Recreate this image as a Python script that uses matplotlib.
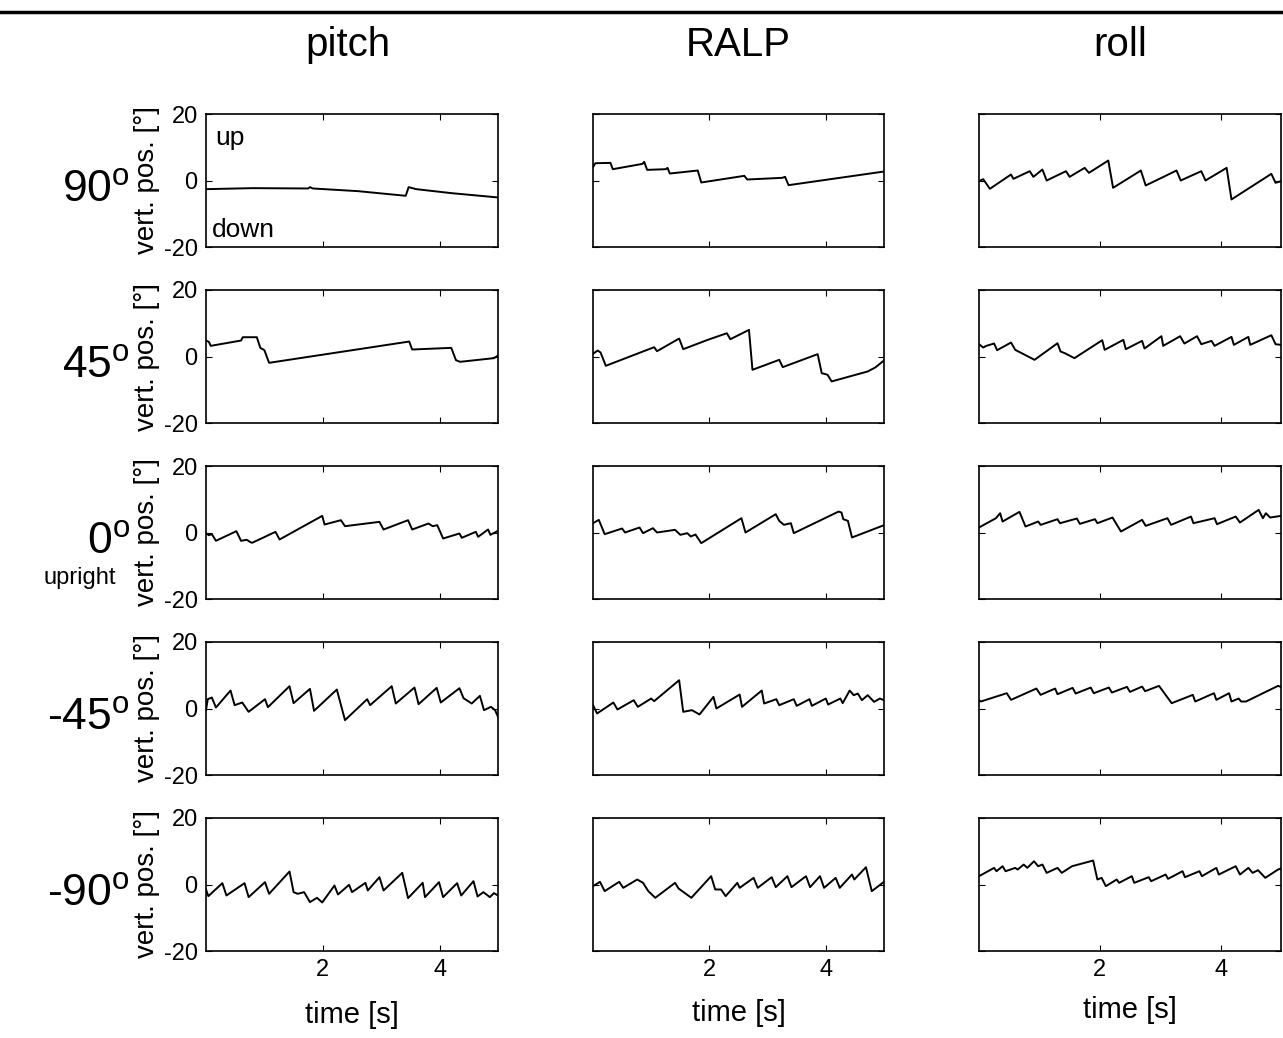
import matplotlib
matplotlib.use("Agg")
import matplotlib.pyplot as plt
from matplotlib.lines import Line2D

plt.rcParams['font.family'] = ['Liberation Sans', 'DejaVu Sans']
plt.rcParams['mathtext.fontset'] = 'custom'
plt.rcParams['mathtext.rm'] = 'Liberation Sans'
plt.rcParams['axes.unicode_minus'] = False

# column / row names
columns = ["pitch", "RALP", "roll"]
rows = ["90", "45", "0", "-45", "-90"]

# eye traces: (time [s], vert. pos. [deg])
pitch_90 = [(0, -2.6), (0.8, -2.3), (1.75, -2.4), (1.78, -2.0), (1.83, -2.4), (2.6, -3.2),
            (3.42, -4.6), (3.47, -2.0), (3.6, -2.6), (4.2, -3.8), (5, -5.1)]
ralp_90 = [(0, 4.0), (0.04, 5.2), (0.3, 5.3), (0.34, 3.4), (0.85, 5.0), (0.88, 5.6), (0.93, 3.2),
           (1.25, 3.4), (1.28, 3.8), (1.32, 2.1), (1.8, 3.0), (1.86, -0.6), (2.6, 1.4), (2.65, 0.3),
           (3.25, 0.8), (3.3, 1.1), (3.36, -1.4), (5, 2.7)]
roll_90 = [(0, -0.2), (0.07, 0.4), (0.18, -2.5), (0.53, 1.8), (0.57, 0.5), (0.84, 2.8), (0.9, 1.1),
           (1.05, 3.3), (1.12, 0.0), (1.44, 2.8), (1.5, 1.1), (1.75, 3.8), (1.82, 2.3), (2.14, 6.0),
           (2.22, -2.2), (2.68, 3.0), (2.76, -1.5), (3.27, 3.0), (3.34, 0.0), (3.68, 2.8), (3.75, 0.0),
           (4.1, 3.8), (4.18, -5.7), (4.84, 2.0), (4.91, -0.7), (5, -0.2)]

pitch_45 = [(0, 4.8), (0.05, 4.4), (0.08, 3.2), (0.6, 4.8), (0.63, 5.8), (0.87, 5.8), (0.93, 2.6),
            (1.0, 1.9), (1.08, -1.9), (3.48, 4.5), (3.53, 2.1), (4.2, 2.6), (4.28, -1.1), (4.35, -1.6),
            (4.93, -0.5), (5, 0.3)]
ralp_45 = [(0, 0.8), (0.08, 1.8), (0.13, 1.2), (0.22, -2.8), (1.05, 2.8), (1.1, 1.6), (1.48, 5.4),
           (1.55, 2.2), (1.97, 5.0), (2.3, 7.0), (2.36, 5.2), (2.68, 8.0), (2.74, -4.0), (3.2, -1.0),
           (3.26, -3.2), (3.86, 0.7), (3.93, -5.0), (4.03, -5.5), (4.1, -7.5), (4.72, -4.5),
           (4.85, -3.3), (5, -1.2)]
roll_45 = [(0, 3.7), (0.07, 2.7), (0.12, 3.2), (0.25, 3.9), (0.3, 1.9), (0.53, 4.2), (0.6, 2.0),
           (0.92, -1.0), (1.3, 4.0), (1.35, 1.5), (1.42, 1.0), (1.58, -0.5), (2.04, 4.9), (2.08, 2.0),
           (2.39, 5.0), (2.43, 2.2), (2.7, 4.7), (2.74, 2.4), (3.02, 6.1), (3.05, 3.2), (3.33, 6.1),
           (3.4, 3.9), (3.61, 6.1), (3.68, 3.7), (3.85, 4.7), (3.9, 3.2), (4.18, 5.9), (4.22, 3.5),
           (4.46, 5.9), (4.49, 3.5), (4.84, 6.4), (4.91, 3.7), (5, 3.5)]

pitch_0 = [(0, -0.3), (0.05, -0.8), (0.1, -0.5), (0.17, -2.5), (0.52, 0.4), (0.6, -2.5), (0.7, -2.2),
           (0.75, -2.8), (0.79, -3.1), (1.19, 0.2), (1.26, -2.1), (1.99, 5.0), (2.03, 2.4), (2.31, 3.7),
           (2.38, 1.9), (2.97, 3.2), (3.04, 0.9), (3.46, 3.7), (3.53, 0.9), (3.81, 2.7), (3.88, 1.9),
           (3.96, 2.2), (4.06, -1.8), (4.34, -0.3), (4.38, -1.6), (4.62, 0.2), (4.66, -1.3),
           (4.83, 0.9), (4.87, -0.7), (5, 0.5)]
ralp_0 = [(0, 2.8), (0.1, 3.8), (0.2, -0.5), (0.5, 1.2), (0.55, 0.0), (0.8, 1.5), (0.86, -0.2),
          (1.03, 1.3), (1.1, 0.0), (1.41, 0.8), (1.5, -0.7), (1.62, -0.2), (1.68, -1.2), (1.76, -0.6),
          (1.86, -3.2), (2.55, 4.3), (2.62, 0.0), (3.14, 5.5), (3.2, 3.5), (3.28, 2.3), (3.4, 2.8),
          (3.45, -0.2), (4.22, 6.3), (4.27, 6.0), (4.3, 4.0), (4.38, 3.5), (4.45, -1.5), (5, 2.2)]
roll_0 = [(0, 1.5), (0.28, 4.3), (0.35, 5.8), (0.39, 3.3), (0.67, 6.2), (0.77, 1.8), (0.98, 3.3),
          (1.02, 2.3), (1.3, 4.0), (1.34, 2.8), (1.62, 4.2), (1.67, 2.6), (1.92, 4.0), (1.96, 2.8),
          (2.21, 4.5), (2.35, 0.3), (2.7, 3.8), (2.76, 2.0), (3.12, 4.3), (3.18, 2.3), (3.51, 4.8),
          (3.55, 2.8), (3.9, 4.3), (3.94, 2.5), (4.25, 4.8), (4.32, 3.0), (4.63, 6.8), (4.7, 4.3),
          (4.75, 5.8), (4.82, 4.5), (5, 5.0)]

pitch_m45 = [(0, -0.5), (0.03, 2.8), (0.1, 3.3), (0.17, 0.3), (0.42, 5.4), (0.49, 1.0), (0.62, 1.8),
             (0.73, -1.0), (1.01, 2.8), (1.06, 0.4), (1.43, 6.7), (1.5, 1.6), (1.78, 5.9), (1.85, -0.7),
             (2.24, 5.7), (2.38, -3.5), (2.76, 2.8), (2.81, 1.0), (3.18, 6.7), (3.25, 1.5), (3.57, 6.3),
             (3.64, 1.3), (3.95, 6.2), (4.02, 1.8), (4.34, 6.1), (4.41, 3.1), (4.55, 1.5), (4.69, 3.8),
             (4.76, -0.5), (4.88, 0.5), (4.95, -0.5), (5, -2.5)]
ralp_m45 = [(0, 1.0), (0.07, -1.5), (0.35, 1.8), (0.42, -0.3), (0.7, 2.5), (0.77, 0.5), (1.0, 3.0),
            (1.05, 2.2), (1.48, 8.5), (1.55, -1.0), (1.7, -0.5), (1.83, -1.8), (2.07, 3.5), (2.12, 0.0),
            (2.52, 4.2), (2.56, 0.5), (2.9, 5.4), (2.94, 1.5), (3.15, 2.8), (3.2, 1.0), (3.45, 2.8),
            (3.5, 0.8), (3.72, 2.8), (3.76, 0.8), (4.0, 3.0), (4.04, 1.2), (4.25, 3.0), (4.29, 1.6),
            (4.41, 5.4), (4.48, 4.0), (4.55, 4.5), (4.62, 2.5), (4.72, 4.0), (4.83, 2.0), (4.93, 3.0),
            (5, 2.5)]
roll_m45 = [(0, 2.5), (0.03, 2.1), (0.46, 4.6), (0.53, 2.6), (0.95, 6.0), (1.02, 4.1), (1.26, 6.0),
            (1.3, 4.3), (1.55, 6.2), (1.6, 4.5), (1.85, 6.3), (1.9, 4.6), (2.15, 6.3), (2.2, 4.8),
            (2.45, 6.5), (2.5, 5.0), (2.7, 6.6), (2.75, 5.2), (2.98, 6.8), (3.19, 1.6), (3.54, 4.1),
            (3.58, 2.1), (3.89, 4.6), (3.93, 2.6), (4.14, 4.6), (4.18, 2.1), (4.3, 3.0), (4.34, 2.1),
            (4.42, 2.1), (4.95, 6.8), (5, 6.5)]

pitch_m90 = [(0, -1.5), (0.04, -3.5), (0.28, 0.4), (0.35, -3.3), (0.66, 0.4), (0.73, -3.8), (1.01, 0.7),
             (1.08, -2.8), (1.43, 3.9), (1.5, -2.3), (1.57, -2.8), (1.68, -2.3), (1.78, -5.3),
             (1.9, -4.0), (1.99, -5.4), (2.2, -0.3), (2.26, -3.0), (2.45, -0.1), (2.5, -2.3),
             (2.73, 0.5), (2.77, -1.8), (2.97, 2.2), (3.04, -1.8), (3.36, 3.5), (3.46, -4.1),
             (3.71, 0.5), (3.75, -3.8), (3.99, 0.7), (4.06, -3.8), (4.3, 0.4), (4.37, -3.3),
             (4.58, 1.0), (4.65, -3.6), (4.75, -2.3), (4.86, -3.8), (4.93, -2.6), (5, -3.3)]
ralp_m90 = [(0, -0.5), (0.12, 0.8), (0.2, -2.0), (0.45, 0.8), (0.52, -1.0), (0.76, 1.5), (0.86, 0.5),
            (0.95, -2.0), (1.07, -4.0), (1.41, 0.5), (1.47, -1.2), (1.69, -4.0), (2.03, 2.5),
            (2.1, -1.5), (2.2, -1.5), (2.28, -3.5), (2.48, 0.5), (2.52, -1.0), (2.76, 2.0), (2.83, -1.0),
            (3.07, 2.2), (3.14, -0.8), (3.34, 2.5), (3.41, -0.8), (3.66, 2.5), (3.73, -0.8), (3.9, 2.5),
            (3.97, -1.0), (4.17, 2.0), (4.24, -1.0), (4.45, 3.0), (4.49, 1.5), (4.69, 5.2), (4.79, -2.0),
            (5, 0.8)]
roll_m90 = [(0, 2.5), (0.25, 5.0), (0.29, 4.0), (0.39, 5.5), (0.44, 4.0), (0.6, 5.0), (0.64, 4.5),
            (0.74, 6.0), (0.8, 5.0), (0.91, 7.0), (0.98, 5.5), (1.05, 6.0), (1.12, 3.5), (1.3, 5.0),
            (1.37, 3.5), (1.54, 5.5), (1.89, 7.2), (1.96, 1.5), (2.03, 2.0), (2.1, -0.5), (2.28, 1.5),
            (2.32, 0.5), (2.53, 2.5), (2.57, 0.5), (2.81, 2.2), (2.85, 1.0), (3.09, 3.0), (3.13, 1.7),
            (3.37, 4.0), (3.41, 2.2), (3.65, 4.0), (3.69, 2.5), (3.93, 5.0), (3.97, 3.0), (4.25, 5.5),
            (4.32, 3.0), (4.46, 5.0), (4.53, 3.5), (4.62, 4.3), (4.74, 2.0), (4.95, 4.5), (5, 4.8)]

traces = [[pitch_90, ralp_90, roll_90],
          [pitch_45, ralp_45, roll_45],
          [pitch_0, ralp_0, roll_0],
          [pitch_m45, ralp_m45, roll_m45],
          [pitch_m90, ralp_m90, roll_m90]]

W, H = 1283, 1038
fig = plt.figure(figsize=(W / 100, H / 100), dpi=100)

col_left = [206, 593, 979]
col_width = [292, 291, 302]
row_top = [114, 290, 466, 642, 818]
panel_h = 133


def fx(px):
    return px / W


def fy(py):
    return 1 - py / H


for i, r in enumerate(rows):
    for j, c in enumerate(columns):
        ax = fig.add_axes([fx(col_left[j]), fy(row_top[i] + panel_h), col_width[j] / W, panel_h / H])
        t, y = zip(*traces[i][j])
        ax.plot(t, y, color="black", lw=1.4)
        ax.set_xlim(0, 5)
        ax.set_ylim(-20, 20)
        ax.set_xticks([2, 4])
        ax.set_yticks([-20, 0, 20])
        ax.tick_params(direction="in", top=True, right=True, length=4, width=0.8,
                       labelsize=17, pad=6,
                       labelleft=(j == 0), labelbottom=(i == len(rows) - 1))
        for s in ax.spines.values():
            s.set_linewidth(1.2)
        if i == 0 and j == 0:
            ax.text(0.03, 0.82, "up", transform=ax.transAxes, fontsize=19, va="center")
            ax.text(0.02, 0.13, "down", transform=ax.transAxes, fontsize=19, va="center")
        if j == 0:
            fig.text(fx(147), fy(row_top[i] + panel_h / 2), "vert. pos. [°]", rotation=90,
                     ha="center", va="center", fontsize=20)
    fig.text(fx(130), fy(row_top[i] + 88), r + r"$^{\mathrm{o}}$", ha="right", va="baseline",
             fontsize=32)

fig.text(fx(80), fy(584), "upright", ha="center", va="baseline", fontsize=17)

title_x = [348, 738, 1120]
time_y = [1015, 1013, 1010]
for j, c in enumerate(columns):
    fig.text(fx(title_x[j]), fy(45), c, ha="center", va="center", fontsize=29)
    fig.text(fx(col_left[j] + col_width[j] / 2), fy(time_y[j]), "time [s]", ha="center",
             va="center", fontsize=21)

fig.add_artist(Line2D([0, 1], [fy(12), fy(12)], color="black", lw=2.5, transform=fig.transFigure))

fig.savefig("out.png", dpi=100)
